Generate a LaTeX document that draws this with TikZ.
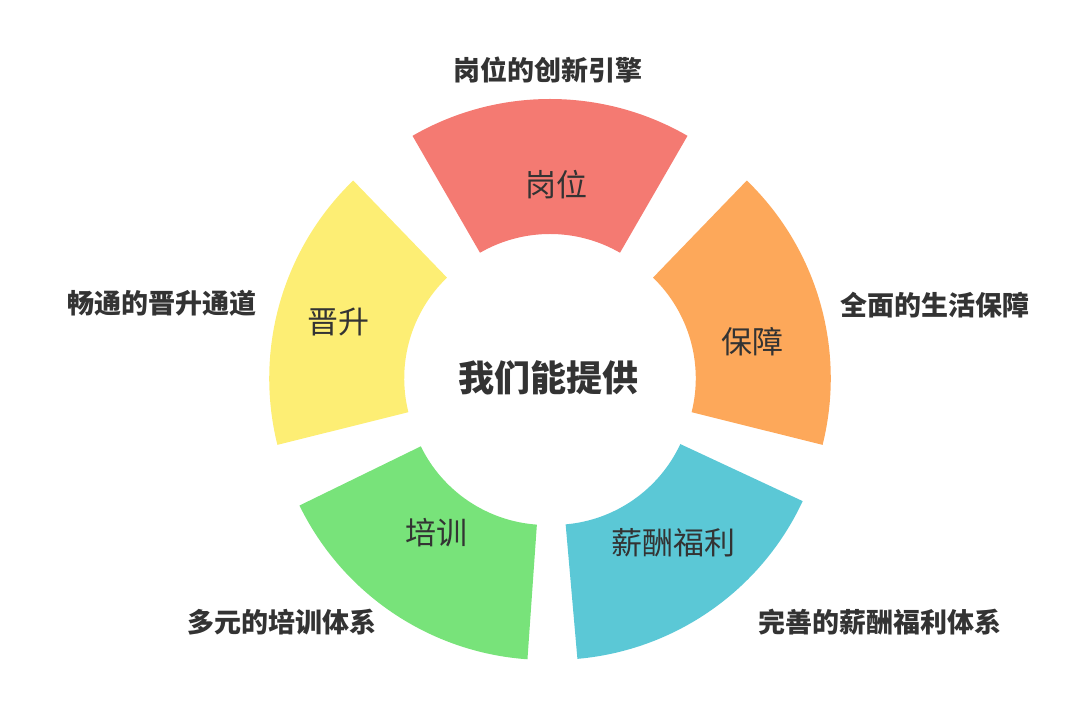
\documentclass[tikz,border=0pt]{standalone}
\usepackage{fontspec}
\setmainfont{Noto Sans CJK SC}
\usetikzlibrary{calc}
\definecolor{cred}{HTML}{F47A72}
\definecolor{cyel}{HTML}{FDEE74}
\definecolor{corg}{HTML}{FDA85A}
\definecolor{ccya}{HTML}{5BC8D6}
\definecolor{cgrn}{HTML}{78E37A}
\definecolor{ctxt}{HTML}{333333}
\newcommand{\mysector}[2]{%
  \pgfmathsetmacro{\aa}{#2-30}\pgfmathsetmacro{\ab}{#2+30}%
  \fill[#1] ($(550,337)+(#2:6)$) ++(\aa:140) arc[start angle=\aa,end angle=\ab,radius=140]
    -- ($(550,337)+(#2:6)+(\ab:275)$) arc[start angle=\ab,end angle=\aa,radius=275] -- cycle;}
\tikzset{outer/.style={font=\fontsize{27}{32}\selectfont\bfseries,text=ctxt},
  inner/.style={font=\fontsize{31}{36}\selectfont,text=ctxt}}
\begin{document}
\begin{tikzpicture}[x=1pt,y=1pt]
\useasboundingbox (0,0) rectangle (1080,717);
\mysector{cred}{90}
\mysector{cyel}{164}
\mysector{corg}{16}
\mysector{ccya}{305}
\mysector{cgrn}{236}
\node[inner] (s1) at (556,532) {岗位};
\node[inner] (s2) at (338,395) {晋升};
\node[inner] (s3) at (752,375) {保障};
\node[inner] (s4) at (436,184) {培训};
\node[inner] (s5) at (673,174) {薪酬福利};
\node[font=\fontsize{36}{42}\selectfont\bfseries,text=ctxt] (c) at (548,339) {我们能提供};
\node[outer] (l1) at (548,647) {岗位的创新引擎};
\node[outer] (l2) at (162,414) {畅通的晋升通道};
\node[outer] (l3) at (935,412) {全面的生活保障};
\node[outer] (l4) at (282,95) {多元的培训体系};
\node[outer] (l5) at (880,95) {完善的薪酬福利体系};
\end{tikzpicture}
\end{document}
